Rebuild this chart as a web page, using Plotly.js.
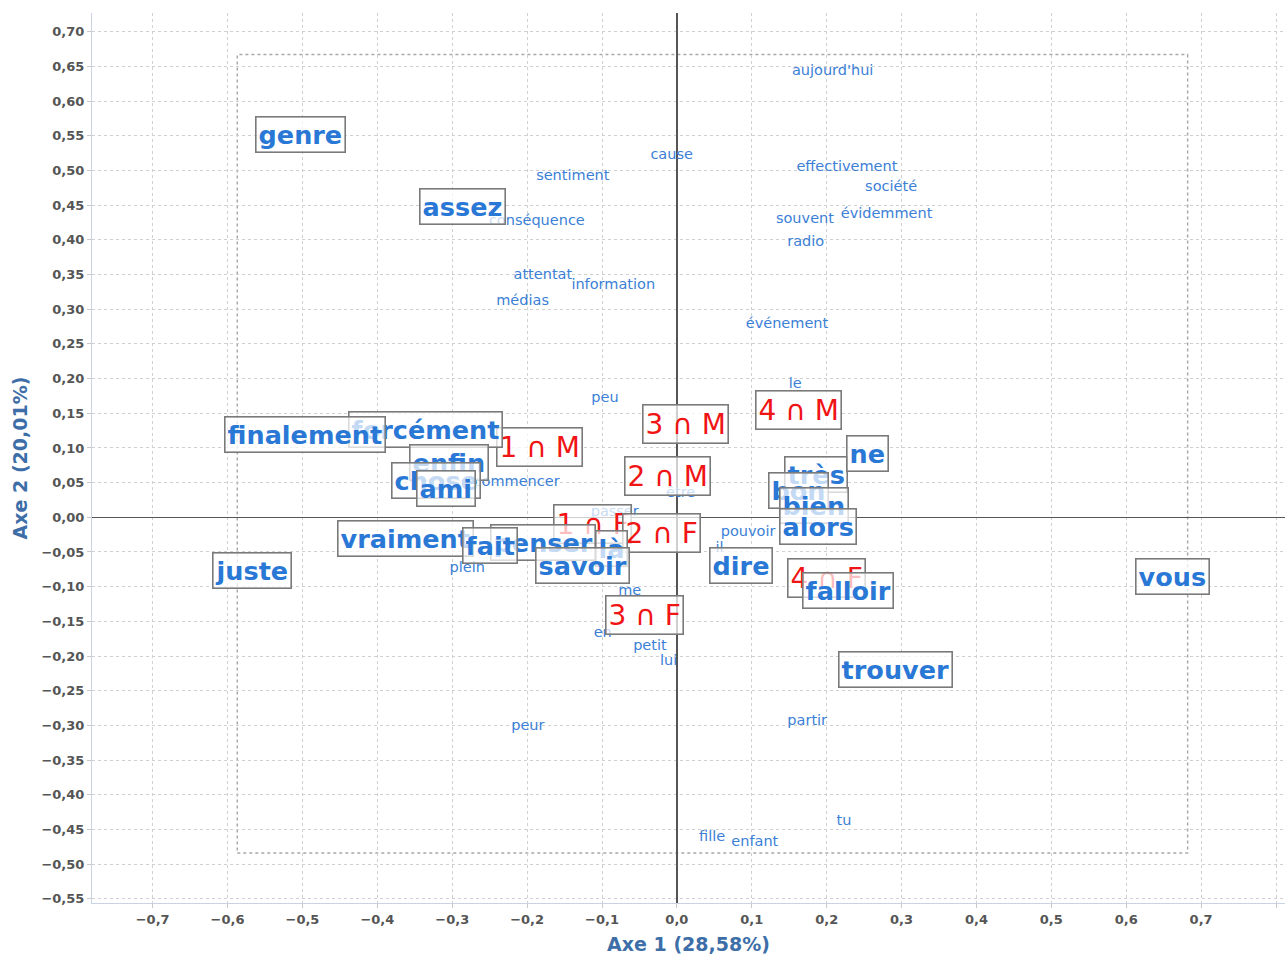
<!DOCTYPE html>
<html>
<head>
<meta charset="utf-8">
<script src="https://cdn.plot.ly/plotly-3.0.1.min.js"></script>
<style>html,body{margin:0;padding:0;background:#fff;}#chart{width:1285px;height:956px;}</style>
</head>
<body>
<div id="chart"></div>
<script>
// Small word labels (no box)
const smallWords = ["aujourd'hui","cause","sentiment","effectivement","société","évidemment","souvent","conséquence","radio","attentat","information","médias","événement","le","peu","commencer","être","passer","pouvoir","il","plein","me","en","petit","lui","peur","partir","tu","fille","enfant"];
const smallX = [0.208,-0.007,-0.139,0.227,0.286,0.280,0.171,-0.187,0.172,-0.179,-0.085,-0.206,0.147,0.158,-0.096,-0.214,0.005,-0.083,0.095,0.057,-0.280,-0.063,-0.099,-0.036,-0.011,-0.199,0.174,0.223,0.047,0.104];
const smallY = [0.643,0.522,0.492,0.505,0.475,0.436,0.430,0.426,0.396,0.349,0.334,0.311,0.278,0.191,0.172,0.050,0.035,0.007,-0.022,-0.045,-0.074,-0.107,-0.167,-0.186,-0.207,-0.301,-0.294,-0.439,-0.462,-0.469];

// Boxed word labels (blue), in drawing order
const boxedWords = ["genre","assez","forcément","finalement","enfin","chose","ami","vraiment","penser","fait","là","savoir","juste","dire","très","bon","bien","alors","ne","falloir","trouver","vous"];
const boxedX = [-0.503,-0.286,-0.336,-0.497,-0.304,-0.322,-0.308,-0.363,-0.179,-0.250,-0.087,-0.126,-0.567,0.085,0.186,0.162,0.183,0.188,0.254,0.228,0.292,0.662];
const boxedY = [0.552,0.448,0.126,0.119,0.079,0.053,0.042,-0.030,-0.036,-0.040,-0.045,-0.069,-0.076,-0.070,0.062,0.039,0.017,-0.013,0.092,-0.105,-0.220,-0.086];

// Group labels (red)
const groupLabels = ["1 ∩ M","2 ∩ M","3 ∩ M","4 ∩ M","1 ∩ F","2 ∩ F","3 ∩ F","4 ∩ F"];
const groupX = [-0.183,-0.013,0.011,0.163,-0.113,-0.021,-0.043,0.200];
const groupY = [0.102,0.059,0.135,0.155,-0.009,-0.023,-0.141,-0.088];

// Dotted frame [x0, x1, y0, y1]
const frameBox = [-0.587, 0.682, -0.484, 0.667];

const xTitle = "Axe 1 (28,58%)";
const yTitle = "Axe 2 (20,01%)";

const FONT = "DejaVu Sans, Verdana, sans-serif";

const traces = [{
  type: "scatter",
  mode: "text",
  x: smallX,
  y: smallY,
  text: smallWords,
  textposition: "middle center",
  textfont: {family: FONT, size: 14.5, color: "#3b80d6"},
  hoverinfo: "none",
  showlegend: false
}];

const annotations = [];
groupLabels.forEach((t, i) => {
  annotations.push({
    x: groupX[i], y: groupY[i], xref: "x", yref: "y",
    text: t, showarrow: false,
    font: {family: FONT, size: 28, color: "#f01414"},
    bgcolor: "rgba(255,255,255,0.72)",
    bordercolor: "#7a7a7a", borderwidth: 1.6, borderpad: 2
  });
});
boxedWords.forEach((t, i) => {
  annotations.push({
    x: boxedX[i], y: boxedY[i], xref: "x", yref: "y",
    text: t, showarrow: false,
    font: {family: FONT, size: 25.5, color: "#2a78d6", weight: "bold"},
    bgcolor: "rgba(255,255,255,0.72)",
    bordercolor: "#7a7a7a", borderwidth: 1.6, borderpad: 2
  });
});

const layout = {
  width: 1285, height: 956,
  margin: {l: 92, r: 0, t: 13, b: 53},
  paper_bgcolor: "#ffffff",
  plot_bgcolor: "#ffffff",
  separators: ", ",
  showlegend: false,
  xaxis: {
    range: [-0.781, 0.812],
    dtick: 0.1, tick0: 0, tickformat: ".1f",
    showgrid: true, gridcolor: "#d0d0d0", griddash: "3px,3px", gridwidth: 1,
    zeroline: true, zerolinecolor: "#555", zerolinewidth: 1.3,
    showline: true, linecolor: "#c8d3e3", linewidth: 1,
    ticks: "outside", ticklen: 4, tickcolor: "#c8c8c8",
    tickfont: {family: FONT, size: 13, color: "#555", weight: "bold"},
    title: {text: xTitle, font: {family: FONT, size: 19, color: "#3d6ea8", weight: "bold"}, standoff: 12},
    fixedrange: true
  },
  yaxis: {
    range: [-0.556, 0.727],
    dtick: 0.05, tick0: 0, tickformat: ".2f",
    showgrid: true, gridcolor: "#d0d0d0", griddash: "3px,3px", gridwidth: 1,
    zeroline: true, zerolinecolor: "#555", zerolinewidth: 1.3,
    showline: true, linecolor: "#c8d3e3", linewidth: 1,
    ticks: "outside", ticklen: 4, tickcolor: "#c8c8c8",
    tickfont: {family: FONT, size: 13, color: "#555", weight: "bold"},
    title: {text: yTitle, font: {family: FONT, size: 19, color: "#3d6ea8", weight: "bold"}, standoff: 8},
    fixedrange: true
  },
  shapes: [{
    type: "rect", xref: "x", yref: "y",
    x0: frameBox[0], x1: frameBox[1], y0: frameBox[2], y1: frameBox[3],
    line: {color: "#a8a8a8", width: 1.5, dash: "dot"},
    layer: "below"
  }],
  annotations: annotations
};

Plotly.newPlot("chart", traces, layout, {staticPlot: true, displayModeBar: false});
</script>
</body>
</html>
